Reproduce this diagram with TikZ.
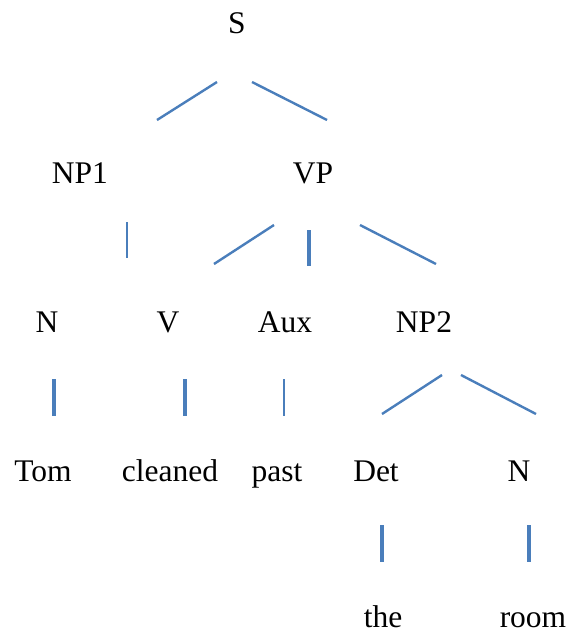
\documentclass[tikz,border=0pt]{standalone}
\usepackage{fontspec}
\setmainfont{Liberation Serif}
\begin{document}
\begin{tikzpicture}[x=1pt,y=-1pt,
  lbl/.style={anchor=base,inner sep=0pt,font=\fontsize{31.5}{38}\selectfont},
  edge/.style={draw=lineblue,line width=2.4pt},
  vedge/.style={draw=lineblue,line width=3.3pt}]
\definecolor{lineblue}{HTML}{4A7EBB}
\useasboundingbox (0,0) rectangle (568,635);
% labels
\node[lbl] (s) at (237,33) {S};
\node[lbl] (np1) at (80,183) {NP1};
\node[lbl] (vp) at (313,183) {VP};
\node[lbl] (n1) at (47,332) {N};
\node[lbl] (v) at (168,332) {V};
\node[lbl] (aux) at (285,332) {Aux};
\node[lbl] (np2) at (424,332) {NP2};
\node[lbl] (tom) at (43,481) {Tom};
\node[lbl] (cleaned) at (170,481) {cleaned};
\node[lbl] (past) at (277,481) {past};
\node[lbl] (det) at (376,481) {Det};
\node[lbl] (n2) at (519,481) {N};
\node[lbl] (the) at (383,627) {the};
\node[lbl] (room) at (533,627) {room};
% endpoints
\coordinate (a1) at (157,120); \coordinate (a2) at (217,82);
\coordinate (b1) at (252,82); \coordinate (b2) at (327,120);
\coordinate (c1) at (127,222); \coordinate (c2) at (127,258);
\coordinate (d1) at (214,264); \coordinate (d2) at (274,225);
\coordinate (e1) at (309,230); \coordinate (e2) at (309,266);
\coordinate (f1) at (360,225); \coordinate (f2) at (436,264);
\coordinate (g1) at (54,379); \coordinate (g2) at (54,416);
\coordinate (h1) at (185,379); \coordinate (h2) at (185,416);
\coordinate (i1) at (284,379); \coordinate (i2) at (284,416);
\coordinate (j1) at (382,414); \coordinate (j2) at (442,375);
\coordinate (k1) at (461,375); \coordinate (k2) at (536,414);
\coordinate (l1) at (382,525); \coordinate (l2) at (382,562);
\coordinate (m1) at (529,525); \coordinate (m2) at (529,562);
% segments
\draw[edge] (a1) -- (a2);
\draw[edge] (b1) -- (b2);
\draw[draw=lineblue,line width=1.8pt] (c1) -- (c2);
\draw[edge] (d1) -- (d2);
\draw[draw=lineblue,line width=4pt] (e1) -- (e2);
\draw[edge] (f1) -- (f2);
\draw[vedge] (g1) -- (g2);
\draw[vedge] (h1) -- (h2);
\draw[draw=lineblue,line width=2.8pt] (i1) -- (i2);
\draw[edge] (j1) -- (j2);
\draw[edge] (k1) -- (k2);
\draw[vedge] (l1) -- (l2);
\draw[vedge] (m1) -- (m2);
\end{tikzpicture}
\end{document}
